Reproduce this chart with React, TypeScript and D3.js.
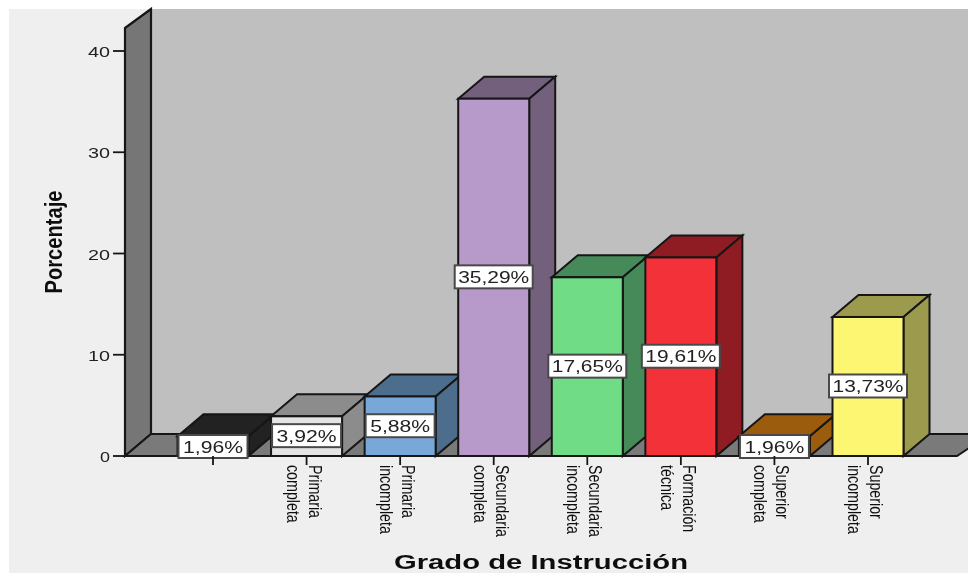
import React from "react";
import * as d3 from "d3";

const categories = ["", "Primaria\ncompleta", "Primaria\nincompleta", "Secundaria\ncompleta", "Secundaria\nincompleta", "Formación\ntécnica", "Superior\ncompleta", "Superior\nincompleta"];
const percentages = [1.96, 3.92, 5.88, 35.29, 17.65, 19.61, 1.96, 13.73];
const frontColors = ["#e4e4e4", "#e4e4e4", "#79a8d8", "#b89aca", "#70dc86", "#f23238", "#f4f4f4", "#fcf672"];
const sideColors = ["#202020", "#8c8c8c", "#4d6d8c", "#72607c", "#448a58", "#8e1c22", "#9c5c0e", "#9c9a4e"];
const yTicks = [0, 10, 20, 30, 40];

const x = d3.scalePoint<number>().domain(d3.range(8)).range([213, 868]);
const y = d3.scaleLinear().domain([0, 40]).range([456, 51]);
const barW = 71;
const dx = 26;
const dy = -22;
const line = "#161616";
const sans = "'Liberation Sans', Arial, sans-serif";

const poly = (pts: [number, number][]) => d3.line()(pts) + "Z";

export default function App() {
  const y0 = y(0);
  const wallTop = 28;
  return (
    <svg width={968} height={573} style={{ position: "absolute", left: 0, top: 0, background: "#fff" }}>
      <defs>
        <filter id="soft" x="-5%" y="-5%" width="110%" height="110%"><feGaussianBlur stdDeviation="0.55" /></filter>
      </defs>
      <g filter="url(#soft)">
        <rect x={9} y={9} width={959} height={564} fill="#efefef" />
        <rect x={125 + dx} y={9} width={968 - 125 - dx} height={y0 + dy - 9} fill="#bfbfbf" />
        <path d={poly([[125, wallTop], [125 + dx, wallTop + dy + 3], [125 + dx, y0 + dy], [125, y0]])} fill="#767676" stroke={line} strokeWidth={2.2} />
        <path d={poly([[125, y0], [125 + dx, y0 + dy], [990, y0 + dy], [957, y0]])} fill="#7a7a7a" stroke={line} strokeWidth={2} />
        <line x1={125} x2={957} y1={y0} y2={y0} stroke={line} strokeWidth={2} />

        {yTicks.map((t) => (
          <g key={t}>
            <line x1={113} x2={125} y1={y(t)} y2={y(t)} stroke={line} strokeWidth={1.8} />
            <text x={110} y={y(t) + 6} textAnchor="end" fontFamily={sans} fontSize={15} fill="#222" textLength={t === 0 ? 10 : 22} lengthAdjust="spacingAndGlyphs">{t}</text>
          </g>
        ))}
        <text transform="translate(62,242) rotate(-90) scale(0.84,1)" textAnchor="middle" fontFamily={sans} fontWeight={700} fontSize={24} fill="#111">Porcentaje</text>

        {percentages.map((v, i) => {
          const cx = x(i) as number;
          const l = cx - barW / 2;
          const r = cx + barW / 2;
          const t = y(v);
          return (
            <g key={i}>
              <path d={poly([[l, t], [l + dx, t + dy], [r + dx, t + dy], [r, t]])} fill={sideColors[i]} stroke={line} strokeWidth={2} />
              <path d={poly([[r, t], [r + dx, t + dy], [r + dx, y0 + dy], [r, y0]])} fill={sideColors[i]} stroke={line} strokeWidth={2} />
              <rect x={l} y={t} width={barW} height={y0 - t} fill={frontColors[i]} stroke={line} strokeWidth={2} />
            </g>
          );
        })}

        {percentages.map((v, i) => {
          const cx = x(i) as number;
          const mid = v < 3 ? y0 - 9.5 : (y(v) + y0) / 2 - 0.5;
          const wide = v >= 10;
          const boxW = wide ? 78 : 69;
          return (
            <g key={i}>
              <rect x={cx - boxW / 2} y={mid - 11.5} width={boxW} height={23} fill="#fff" stroke="#4a4a4a" strokeWidth={2} />
              <text x={cx} y={mid + 6} textAnchor="middle" fontFamily={sans} fontSize={17} fill="#222" textLength={wide ? 71 : 60} lengthAdjust="spacingAndGlyphs">{d3.format(".2f")(v).replace(".", ",")}%</text>
            </g>
          );
        })}

        {categories.map((c, i) => {
          const cx = x(i) as number;
          const rows = c ? c.split("\n") : [];
          return (
            <g key={i}>
              <line x1={cx} x2={cx} y1={y0} y2={y0 + 9} stroke={line} strokeWidth={1.8} />
              {rows.map((row, k) => (
                <text key={k} transform={`translate(${cx + 2 - k * 22},${y0 + 9}) rotate(90) scale(0.75,1)`} fontFamily={sans} fontSize={19} fill="#111">{row}</text>
              ))}
            </g>
          );
        })}

        <text x={541} y={569} textAnchor="middle" fontFamily={sans} fontWeight={700} fontSize={19.5} fill="#111" textLength={294} lengthAdjust="spacingAndGlyphs">Grado de Instrucción</text>
      </g>
    </svg>
  );
}
